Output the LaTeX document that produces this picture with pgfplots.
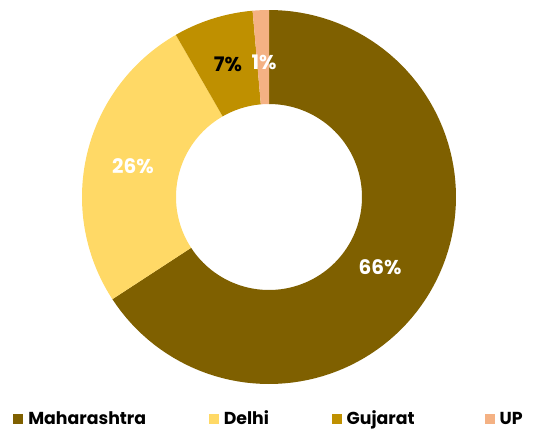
\documentclass[border=0pt]{standalone}
\usepackage{pgfplots}
\usepackage{pgfplotstable}
\pgfplotsset{compat=1.18}
\usepackage{fontspec}
\setmainfont{Poppins}
\definecolor{cMah}{HTML}{7F6000}
\definecolor{cDel}{HTML}{FFD966}
\definecolor{cGuj}{HTML}{BF9000}
\definecolor{cUP}{HTML}{F4B183}

\pgfplotstableread{
state value
Maharashtra 65.8
Delhi 25.9
Gujarat 6.9
UP 1.4
}\sharetable

\pgfplotstablegetelem{0}{value}\of\sharetable \let\vA\pgfplotsretval
\pgfplotstablegetelem{1}{value}\of\sharetable \let\vB\pgfplotsretval
\pgfplotstablegetelem{2}{value}\of\sharetable \let\vC\pgfplotsretval
\pgfplotstablegetelem{3}{value}\of\sharetable \let\vD\pgfplotsretval
\pgfmathsetmacro\aZ{90}
\pgfmathsetmacro\aA{\aZ-3.6*\vA}
\pgfmathsetmacro\aB{\aA-3.6*\vB}
\pgfmathsetmacro\aC{\aB-3.6*\vC}
\pgfmathsetmacro\aD{\aC-3.6*\vD}
\def\cx{269}\def\cy{233}\def\Ro{187}\def\Ri{93}

% ring segment from angle #1 to #2
\newcommand\ring[3]{%
\addplot[fill=#3, draw=none, samples at={0,1,...,201}, variable=\t]
 ({\cx+(\t<=100 ? \Ro : \Ri)*cos(\t<=100 ? #1+(#2-#1)*\t/100 : #2+(#1-#2)*(\t-101)/100)},
  {\cy+(\t<=100 ? \Ro : \Ri)*sin(\t<=100 ? #1+(#2-#1)*\t/100 : #2+(#1-#2)*(\t-101)/100)});}

\begin{document}
\begin{tikzpicture}
\useasboundingbox (0,0) rectangle (402pt,322.5pt);
\begin{axis}[
  x=0.75pt, y=0.75pt, xmin=0, xmax=536, ymin=0, ymax=430,
  hide axis, clip=false, anchor=origin, at={(0,0)},
  legend columns=4,
  legend style={draw=none, fill=none, inner sep=0pt, at={(axis cs:13,11)}, anchor=west,
    font=\fontsize{13}{15}\selectfont\bfseries,
    nodes={inner sep=0pt, anchor=west},
    column sep=3.75pt,
    /tikz/column 2/.style={column sep=47pt},
    /tikz/column 4/.style={column sep=47pt},
    /tikz/column 6/.style={column sep=52.5pt}},
  legend image code/.code={\fill[#1] (0pt,-3.75pt) rectangle (7.5pt,3.75pt);},
]
\ring{\aZ}{\aA}{cMah}
\addlegendentry{Maharashtra}
\ring{\aA}{\aB}{cDel}
\addlegendentry{Delhi}
\ring{\aB}{\aC}{cGuj}
\addlegendentry{Gujarat}
\ring{\aC}{\aD}{cUP}
\addlegendentry{UP}
\begin{scope}[font=\fontsize{15}{18}\selectfont\bfseries]
\node[white] at (axis cs:380,163) {66\%};
\node[white] at (axis cs:133,264) {26\%};
\node[black] at (axis cs:228,366) {7\%};
\node[white] at (axis cs:264,368) {1\%};
\end{scope}
\end{axis}
\end{tikzpicture}
\end{document}
